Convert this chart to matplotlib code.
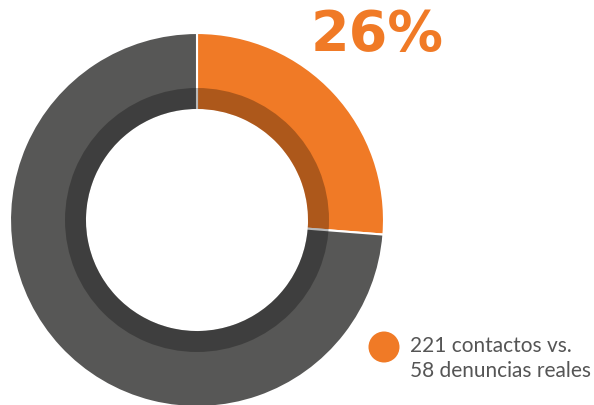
import matplotlib
matplotlib.use('Agg')
import matplotlib.pyplot as plt
from matplotlib.patches import Wedge, Circle

# data
labels = ['denuncias reales', 'resto de contactos']
values = [58, 221 - 58]
colors = ['#F07A26', '#575756']
pct_text = '26%'
legend_lines = ['221 contactos vs.', '58 denuncias reales']

W, H = 594, 405
fig = plt.figure(figsize=(W / 100, H / 100), dpi=100)
ax = fig.add_axes([0, 0, 1, 1])

cx, cy = 197, H - 220
r_out, r_in = 187, 110

ax.pie(values, colors=colors, startangle=90, counterclock=False,
       center=(cx, cy), radius=r_out, frame=True,
       wedgeprops=dict(width=r_out - r_in, edgecolor='white', linewidth=1.5))
ax.set_xlim(0, W)
ax.set_ylim(0, H)
ax.set_aspect('equal')
ax.axis('off')

# darker inner band
ax.add_patch(Wedge((cx, cy), 132, 0, 360, width=21, facecolor='black',
                   alpha=0.28, linewidth=0))

ax.text(377, H - 35, pct_text, color='#F07A26', fontsize=40, fontweight='bold',
        family='DejaVu Sans', ha='center', va='center')

ax.add_patch(Circle((384, H - 347), 15.5, facecolor='#F07A26', linewidth=0))
for i, line in enumerate(legend_lines):
    ax.text(410, H - 352 - 25 * i, line, color='#555555', fontsize=15,
            family='Lato', ha='left', va='baseline')

fig.savefig('out.png', dpi=100)
